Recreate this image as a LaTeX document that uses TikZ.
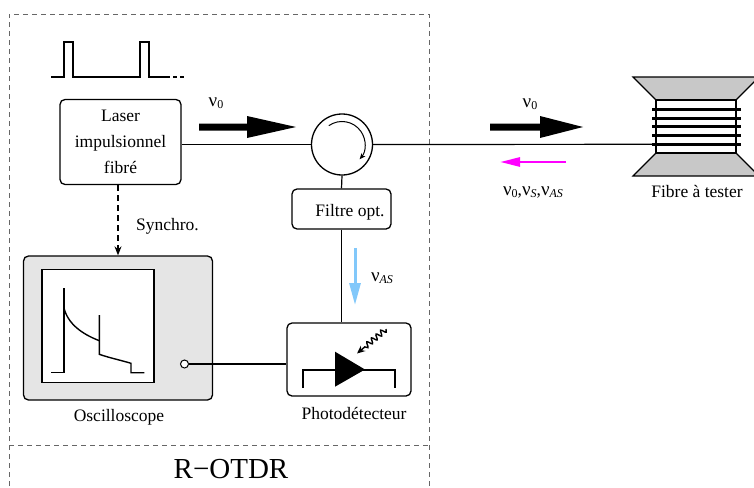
\documentclass[tikz,border=0pt]{standalone}
\usepackage{fontspec}
\setmainfont{Liberation Serif}
\usetikzlibrary{arrows.meta,decorations.pathmorphing,calc}

\definecolor{skyarrow}{RGB}{130,200,250}
\definecolor{spoolgray}{RGB}{200,200,200}
\definecolor{scopegray}{RGB}{229,229,229}
\definecolor{backarrow}{RGB}{255,0,255}

% frequency with a small lowered index
\newcommand\freq[1]{{\fontsize{19}{26}\selectfont ν}\raisebox{-2.2pt}{\fontsize{12}{12}\selectfont #1}}

\begin{document}
\begin{tikzpicture}[x=1pt,y=-1pt,
  every node/.style={font=\fontsize{17.5}{26}\selectfont},
  box/.style={draw, line width=1.3pt, rounded corners=5pt, inner sep=0pt},
  fibre/.style={line width=1.2pt},
  frame/.style={draw=black!60, line width=0.9pt, dash pattern=on 5pt off 4pt},
  trace/.style={line width=1.4pt, line join=miter},
  bigarrow/.style={fill=black},
  lbl/.style={anchor=base},
]
\useasboundingbox (0,0) rectangle (754,487);
\clip (0,0) rectangle (754,487);

% enclosure of the R-OTDR instrument
\draw[frame] (9,495) -- (9,14) -- (429,14) -- (429,495);
\draw[frame] (9,445.7) -- (429,445.7);
\node[lbl, font=\fontsize{29}{34}\selectfont] (otdr) at (231,478) {R−OTDR};

% pulse train
\draw[line width=1.2pt] (51,77) -- (64,77) -- (64,42) -- (73,42) -- (73,77)
  -- (140,77) -- (140,42) -- (149,42) -- (149,77) -- (166,77);
\draw[line width=1.2pt, dash pattern=on 4pt off 3pt] (166,77) -- (185,77);

% laser source
\node[box, minimum width=121pt, minimum height=85pt, align=center] (laser)
  at (120.5,142) {Laser\\impulsionnel\\fibré};

% circulator
\node[circle, draw, line width=1.3pt, minimum size=61pt, inner sep=0pt] (circ)
  at (342,144.5) {};
\draw[line width=1pt, -{Stealth[length=6pt,width=5pt]}]
  ([shift={(125:23pt)}]circ.center) arc[start angle=125, end angle=-40, radius=23pt];

% optical filter
\node[box, minimum width=99pt, minimum height=40pt] (filt) at (341.5,209) {};
\node[lbl] (filttxt) at (350,216) {Filtre opt.};

% photodetector
\node[box, minimum width=124pt, minimum height=73pt] (pd) at (349,359.5) {};
\node[lbl] (pdtxt) at (354,419.5) {Photodétecteur};
\draw[line width=1.3pt] (303,388) -- (303,370) -- (395,370) -- (395,388);
\fill (335,351.7) -- (365,369.5) -- (335,386.7) -- cycle;
\draw[line width=1.4pt, -{Stealth[length=8pt,width=7pt]},
  decorate, decoration={snake, amplitude=2.6pt, segment length=6pt, post length=9pt}]
  (386,329) -- (357,353.5);

% oscilloscope
\node[box, fill=scopegray, minimum width=189pt, minimum height=144pt] (osc)
  at (118,328) {};
\node[draw, line width=1.3pt, fill=white, minimum width=112pt, minimum height=113pt,
  inner sep=0pt] (scr) at (98,326) {};
\draw[trace] (51,372.7) -- (64,372.7) -- (64,288.3);
\draw[trace] (64,308) .. controls (68,324) and (82,334) .. (99.3,340.7);
\draw[trace] (99.3,315) -- (99.3,354.3) .. controls (110,358) and (120,360) .. (131,363.3)
  -- (131,372.7) -- (144.3,372.7);
\node[circle, draw, line width=1pt, fill=white, minimum size=8pt, inner sep=0pt] (port)
  at (184.5,364) {};
\node[lbl] (osctxt) at (119,421) {Oscilloscope};

% fibre under test (spool)
\coordinate (spool) at (652,144.3);
\filldraw[fill=spoolgray, line width=1.2pt, line join=miter]
  (633,77) -- (759,77) -- (736,100) -- (656,100) -- cycle;
\filldraw[fill=spoolgray, line width=1.2pt, line join=miter]
  (656,153) -- (736,153) -- (759,176) -- (633,176) -- cycle;
\filldraw[fill=white, line width=1.2pt] (656,100) rectangle (736,153);
\foreach \yy in {109,118,126.7,135.7,144.3}
  \draw[line width=3pt] (652,\yy) -- (741,\yy);
\node[lbl] (fibtxt) at (697,197) {Fibre à tester};

% fibre links
\draw[fibre] (circ.west) -- (circ.west -| laser.east);
\draw[fibre] (circ.east) -- (spool);
\draw[fibre] (circ.south) -- (filt.north);
\draw[fibre] (filt.south) -- (filt.south |- pd.north);
\draw[fibre] (port.east) -- (port.east -| pd.west);

% trigger link
\draw[line width=1.3pt, dash pattern=on 6pt off 4pt, -{Stealth[length=9pt,width=7pt]}]
  (osc.north |- laser.south) -- (osc.north);
\node[lbl] (sync) at (167.5,230) {Synchro.};

% propagation arrows and frequencies
\fill[bigarrow] (199,123.5) -- (247,123.5) -- (247,116) -- (296,127) -- (247,138)
  -- (247,130.5) -- (199,130.5) -- cycle;
\node[lbl] (nu0a) at (216,106) {\freq{0}};
\fill[bigarrow] (490,123.5) -- (540,123.5) -- (540,116) -- (583,127) -- (540,138)
  -- (540,130.5) -- (490,130.5) -- cycle;
\node[lbl] (nu0b) at (530,107) {\freq{0}};
\draw[backarrow, line width=2.6pt, -{Triangle[length=20pt,width=9pt]}] (566,162) -- (500,162);
\node[lbl] (nuback) at (533,195) {\freq{0},\freq{\itshape S},\freq{\itshape AS}};
\draw[skyarrow, line width=3pt, -{Triangle[length=22pt,width=11pt]}] (355,248) -- (355,305);
\node[lbl] (nuas) at (382,281.5) {\freq{\itshape AS}};
\end{tikzpicture}
\end{document}
